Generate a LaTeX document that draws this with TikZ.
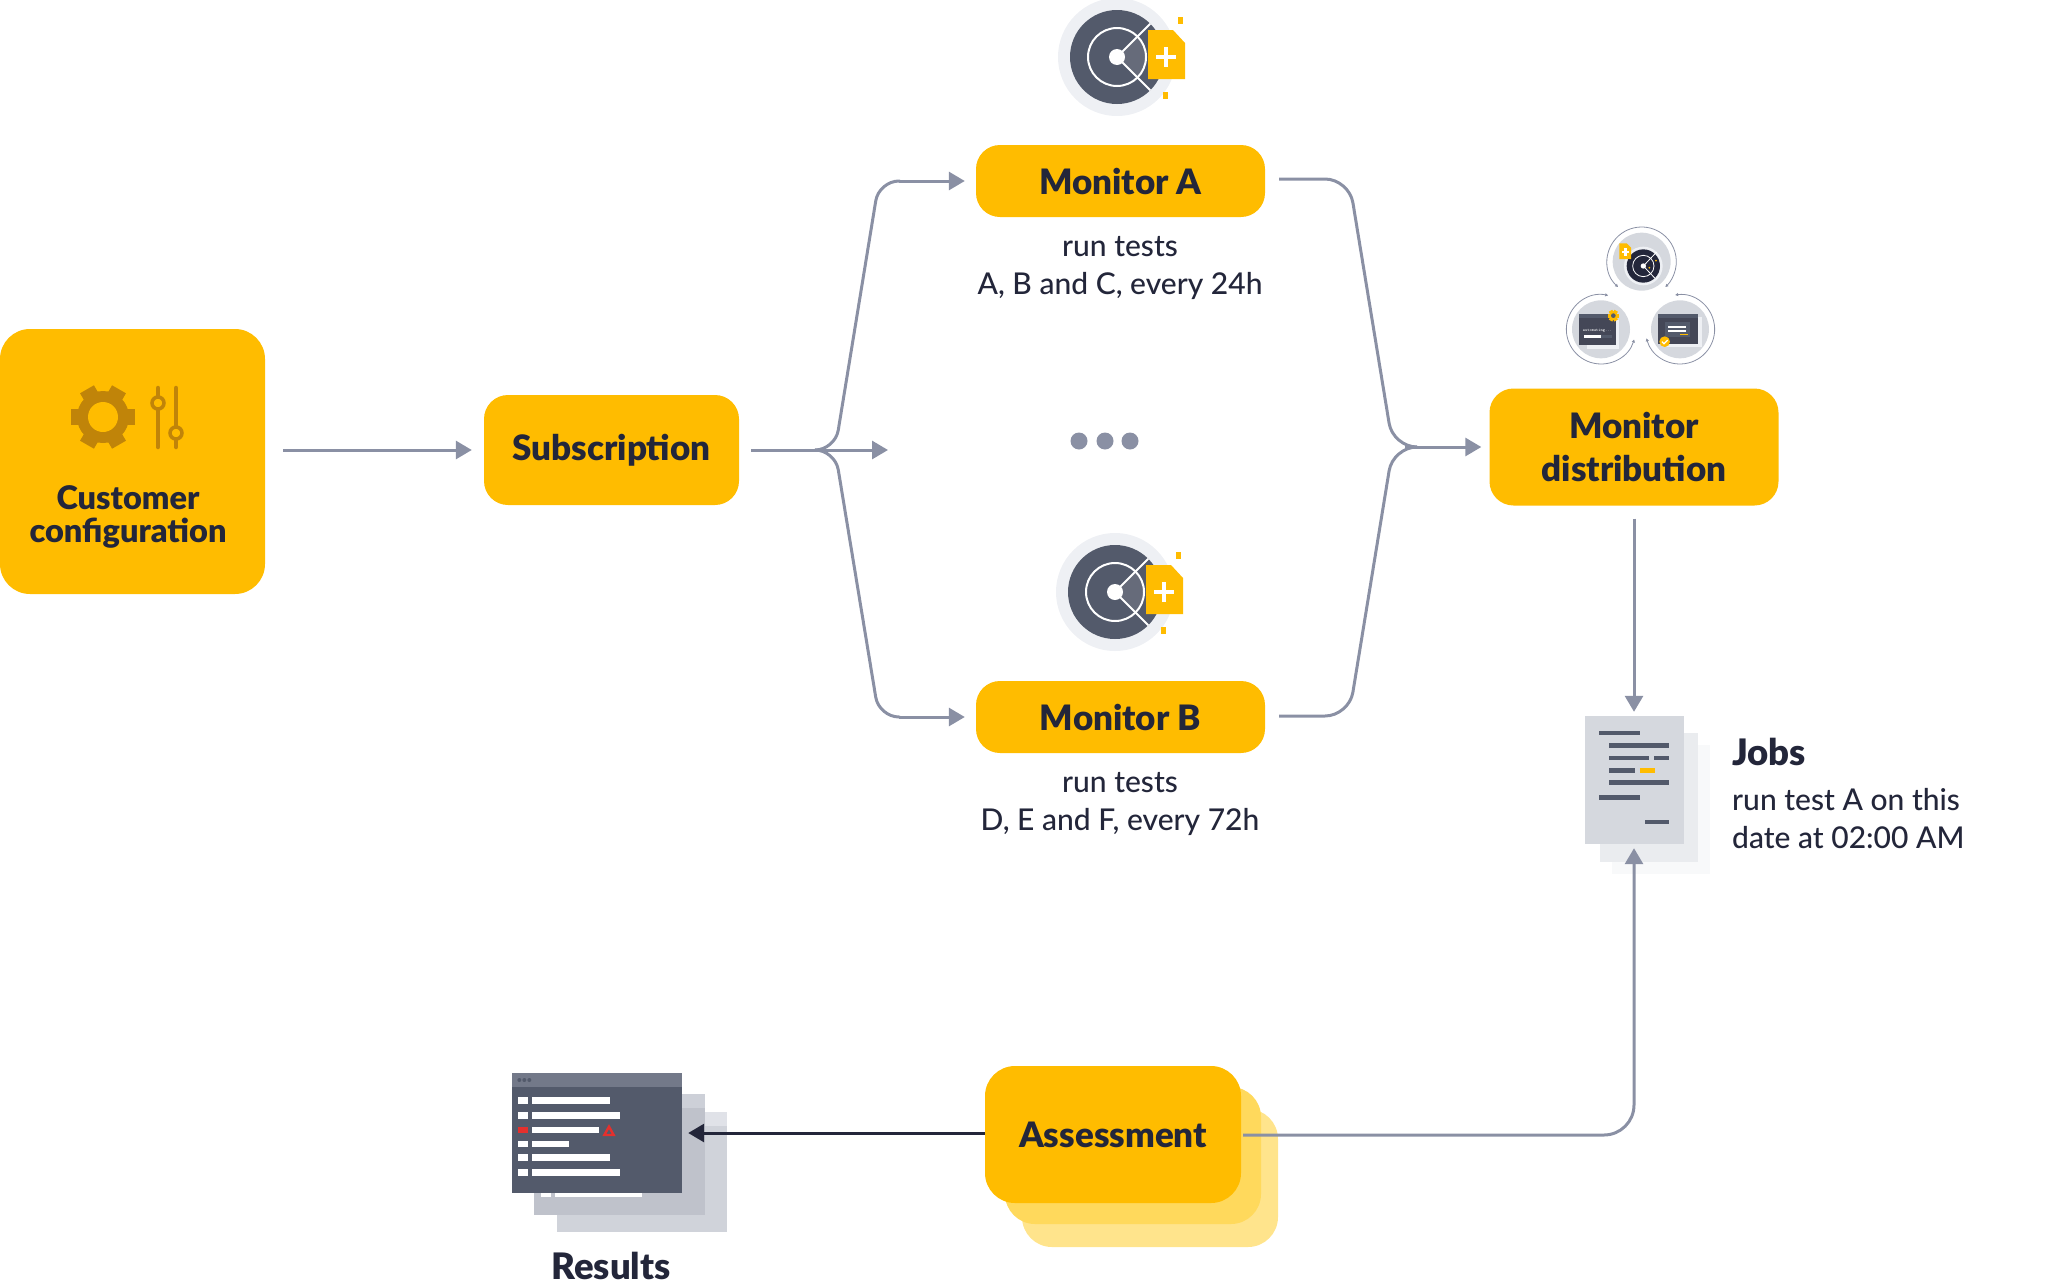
\documentclass[tikz,border=0pt]{standalone}
\usepackage{fontspec}
\setmainfont{Lato Medium}
\newfontfamily\headfont{Lato Black}
\usetikzlibrary{arrows.meta}
\definecolor{amber}{HTML}{FFBC00}
\definecolor{amberlight}{HTML}{FFD95C}
\definecolor{amberpale}{HTML}{FFE48C}
\definecolor{ink}{HTML}{23263A}
\definecolor{slate}{HTML}{8A90A4}
\definecolor{radardark}{HTML}{535A6B}
\definecolor{radarsector}{HTML}{666B7A}
\definecolor{radarhalo}{HTML}{EEF0F4}
\definecolor{gearbrown}{HTML}{C08409}
\definecolor{sheeta}{HTML}{D5D8DE}
\definecolor{sheetb}{HTML}{EAECEF}
\definecolor{sheetc}{HTML}{F8F9FA}
\definecolor{wina}{HTML}{BFC2CB}
\definecolor{winatop}{HTML}{CDD0D8}
\definecolor{winb}{HTML}{D0D3DA}
\definecolor{winbtop}{HTML}{E0E2E8}
\definecolor{wintop}{HTML}{737989}
\definecolor{alert}{HTML}{E5302D}
\newcommand{\headsize}{\fontsize{35}{43}\headfont\selectfont}
\newcommand{\labelsize}{\fontsize{32.5}{33}\headfont\selectfont}
\newcommand{\bodysize}{\fontsize{30}{38}\selectfont}
\tikzset{
radar/.pic={
  \fill[radarhalo] (0,0) circle (59);
  \fill[radardark] (0,0) circle (47);
  \fill[radarsector] (0,0) -- (-45:29) arc (-45:45:29) -- cycle;
  \draw[white,line width=2] (0,0) circle (29);
  \draw[white,line width=2] (-45:47) -- (0,0) -- (45:47);
  \fill[white] (0,0) circle (8);
  \fill[amber] (31,-27) -- (56,-27) -- (68,-14) -- (68,22) -- (31,22) -- cycle;
  \fill[white] (39,-2) rectangle (59,2);
  \fill[white] (47,-10) rectangle (51,10);
  \fill[amber] (60.5,-40) rectangle (65.5,-33);
  \fill[amber] (45.5,35) rectangle (50.5,42);
}}
\begin{document}
\begin{tikzpicture}[x=1pt,y=-1pt]
\tikzstyle{block} = [rectangle, fill=amber, text=ink, rounded corners=24, align=center, font=\headsize]
\tikzstyle{line} = [draw=slate, line width=3, -{Triangle[length=16,width=18]}]
\tikzstyle{caption} = [text=ink, align=center, font=\bodysize, inner sep=0]
\tikzstyle{heading} = [text=ink, inner sep=0, font=\fontsize{36.5}{43}\headfont\selectfont, anchor=base]
\useasboundingbox (0,0) rectangle (2048,1285);
% yellow stacks behind assessment
\fill[amberpale, rounded corners=30] (1022,1109) rectangle (1278,1247);
\fill[amberlight, rounded corners=30] (1005,1087) rectangle (1261,1224);
% boxes
\node [block, minimum width=265, minimum height=265, rounded corners=30] (config) at (132.5,461.5) {};
\node [block, minimum width=255, minimum height=110] (sub) at (611.5,450) {Subscription};
\node [block, minimum width=289, minimum height=72] (mona) at (1120.5,181) {Monitor A};
\node [block, minimum width=289, minimum height=72] (monb) at (1120.5,717) {Monitor B};
\node [block, minimum width=289, minimum height=117] (dist) at (1634,447) {Monitor\\distribution};
\node [block, minimum width=256, minimum height=137, rounded corners=30] (assess) at (1113,1134.5) {Assessment};
% labels
\node [text=ink, align=center, inner sep=0, font=\labelsize] (configtext) at (128,517) {Customer\\configuration};
\node [caption] (capa) at (1120,268) {run tests\\A, B and C, every 24h};
\node [caption] (capb) at (1120,804) {run tests\\D, E and F, every 72h};
\node [heading, anchor=base west] (jobs) at (1732,765) {Jobs};
\node [caption, anchor=north west, align=left] (jobstext) at (1732,788) {run test A on this\\date at 02:00 AM};
\node [heading] (results) at (611,1279) {Results};
% radar icons
\pic at (1117,57) {radar};
\pic at (1115,592) {radar};
% dots
\foreach \i/\x in {1/1079,2/1105,3/1130}
  \node [circle, fill=slate, minimum size=17, inner sep=0] (dot\i) at (\x,441) {};
% gear
\foreach \a in {0,60,...,300}
  \fill[gearbrown, rotate around={\a:(103,417)}] (120,409) rectangle (135,425);
\fill[gearbrown] (103,417) circle (26);
\fill[amber] (103,417) circle (15);
% sliders
\draw[gearbrown, line width=4.5, line cap=round] (158,388) -- (158,447);
\draw[gearbrown, line width=4.5, line cap=round] (176,388) -- (176,447);
\draw[gearbrown, line width=3.5, fill=amber] (158,403) circle (6);
\draw[gearbrown, line width=3.5, fill=amber] (176,433) circle (6);
% jobs documents
\fill[sheetc] (1612,745) rectangle (1710,874);
\fill[sheetb] (1600,733) rectangle (1698,862);
\node [rectangle, fill=sheeta, minimum width=99, minimum height=128, inner sep=0] (doc) at (1634,780) {};
\begin{scope}[shift={(1560,700)},x=0.3333pt,y=-0.3333pt]
\foreach \ya/\xa/\xb in {99/118/240,137/148/327,174/148/267,174/282/327,211/148/225,248/148/327,293/118/240,366/256/327}
  \fill[radardark] (\xa,\ya-7) rectangle (\xb,\ya+7);
\fill[amber] (240,204) rectangle (285,218);
\end{scope}
% results windows
\fill[winb] (557,1112) rectangle (727,1232);
\fill[winbtop] (557,1112) rectangle (727,1126);
\fill[wina] (534,1094) rectangle (705,1215);
\fill[winatop] (534,1094) rectangle (705,1108);
\fill[white] (541,1190) rectangle (551,1197);
\fill[white] (555,1190) rectangle (642,1197);
\node [rectangle, fill=radardark, minimum width=170, minimum height=120, inner sep=0] (win) at (597,1133) {};
\fill[wintop] (512,1073) rectangle (682,1087);
\begin{scope}[shift={(500,1060)},x=0.3333pt,y=-0.3333pt]
\foreach \i in {1,2,3}
  \fill[radardark] (43+\i*15,60) circle (6);
\foreach \ya/\xb in {122/329,167/359,252/208,292/329,337/359}
  {\fill[white] (54,\ya-10) rectangle (85,\ya+10);
   \fill[white] (97,\ya-10) rectangle (\xb,\ya+10);}
\fill[alert] (54,200) rectangle (85,220);
\fill[white] (97,200) rectangle (296,220);
\draw[alert, line width=2.4] (327,200) -- (341,225) -- (313,225) -- cycle;
\end{scope}
% small distribution icon
\begin{scope}[shift={(1540,220)},x=0.3333pt,y=-0.3333pt]
\fill[sheeta] (305,125) circle (87);
\fill[sheeta] (183,328) circle (87);
\fill[sheeta] (420,328) circle (87);
\fill[radarhalo] (310,138) circle (58);
\fill[ink] (310,138) circle (50);
\draw[white, line width=0.8] (310,138) circle (32);
\draw[white, line width=0.8] (350,96) -- (310,138) -- (345,175);
\fill[white] (310,138) circle (8);
\fill[amber] (348,122) circle (3);
\fill[amber] (328,143) circle (3);
\fill[amber] (238,70) -- (260,70) -- (273,83) -- (273,117) -- (238,117) -- cycle;
\fill[white] (245,93) rectangle (268,100);
\fill[white] (253,85) rectangle (260,108);
\fill[radarhalo] (142,300) rectangle (238,388);
\fill[ink!85!white] (118,283) rectangle (228,376);
\fill[radardark] (118,283) rectangle (228,295);
\node [text=white, font=\fontsize{4.2}{5}\ttfamily\selectfont, inner sep=0] (autotext) at (172,331) {automating...};
\fill[radardark] (132,346) rectangle (215,354);
\fill[white] (132,346) rectangle (183,354);
\foreach \a in {0,60,...,300}
  \fill[amber, rotate around={\a:(220,287)}] (228,281) rectangle (237,293);
\fill[amber] (220,287) circle (13);
\fill[radardark] (220,287) circle (7);
\fill[radarhalo] (380,292) rectangle (487,380);
\fill[ink!85!white] (353,283) rectangle (475,372);
\fill[radardark] (353,283) rectangle (475,295);
\fill[radardark] (375,305) rectangle (450,350);
\fill[white] (385,318) rectangle (437,323);
\fill[white] (385,330) rectangle (437,335);
\fill[amber] (420,342) rectangle (443,346);
\fill[amber] (374,365) circle (16);
\draw[white, line width=1.2] (366,365) -- (372,371) -- (383,360);
\tikzstyle{ring}=[draw=slate, line width=0.8, {Triangle[length=3,width=3]}-{Triangle[length=3,width=3]}]
\draw[ring] (305,125) ++(133:104) arc (133:407:104);
\draw[ring] (183,328) ++(282:104) arc (282:17:104);
\draw[ring] (420,328) ++(262:104) arc (262:525:104);
\end{scope}
% connectors
\coordinate (forkend) at (888,450);
\draw[line, shorten <=18, shorten >=12] (config.east |- sub.west) -- (sub.west);
\draw[line, shorten <=12] (sub.east) -- (forkend);
\draw[line, -, rounded corners=20] (818,450) -- (835,450) -- (879,181) -- (900,181);
\draw[line, shorten >=11] (899,181) -- (mona.west);
\draw[line, -, rounded corners=20] (818,450) -- (835,450) -- (879,717) -- (900,717);
\draw[line, shorten >=11] (899,717) -- (monb.west);
\draw[line, -, rounded corners=24, shorten <=14] (mona.east |- 0,179) -- (1349,179) -- (1393,447) -- (1412,447);
\draw[line, -, rounded corners=24, shorten <=14] (monb.east |- 0,716) -- (1349,716) -- (1393,447) -- (1412,447);
\draw[line, shorten >=8] (1405,447) -- (dist.west);
\draw[line, shorten <=13, shorten >=4] (dist.south) -- (doc.north);
\draw[line, rounded corners=30, shorten <=2, shorten >=4] (assess.east |- 0,1135) -- (doc.south |- 0,1135) -- (doc.south);
\draw[line, draw=ink, shorten >=6] (assess.west |- 0,1133) -- (win.east |- 0,1133);
\end{tikzpicture}
\end{document}
